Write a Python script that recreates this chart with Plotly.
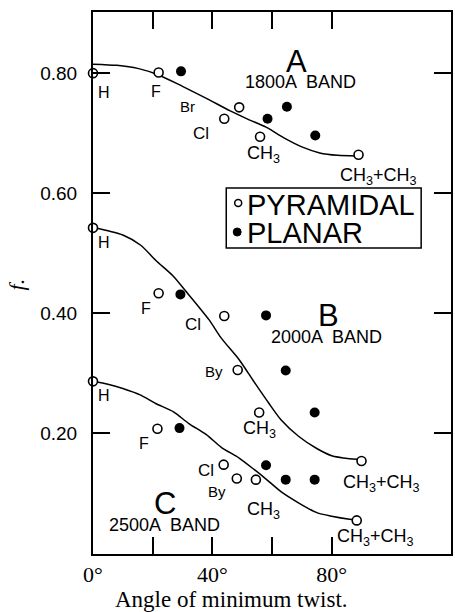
import plotly.graph_objects as go

# ---- data ----
# Band A (1800A)
a_pyr_x = [0, 22, 49, 44, 56, 89]
a_pyr_y = [0.800, 0.801, 0.743, 0.724, 0.694, 0.664]
a_pla_x = [29.5, 58.5, 65, 74.5]
a_pla_y = [0.803, 0.724, 0.744, 0.696]
a_curve_x = [0, 8, 15, 22, 30, 38, 46, 52, 58, 64, 70, 76, 82, 88]
a_curve_y = [0.815, 0.813, 0.808, 0.797, 0.778, 0.758, 0.737, 0.723, 0.710, 0.692, 0.677, 0.667, 0.663, 0.662]

# Band B (2000A)
b_pyr_x = [0, 22, 44, 48.5, 55.7, 90]
b_pyr_y = [0.542, 0.433, 0.395, 0.305, 0.234, 0.153]
b_pla_x = [29.3, 58, 64.6, 74.3]
b_pla_y = [0.431, 0.396, 0.304, 0.234]
b_curve_x = [0, 5, 10, 16, 21, 27, 31, 35, 39, 43, 49, 54, 59, 63, 69, 75, 80, 86, 88.5]
b_curve_y = [0.543, 0.537, 0.530, 0.513, 0.488, 0.461, 0.437, 0.413, 0.388, 0.358, 0.322, 0.285, 0.249, 0.222, 0.194, 0.174, 0.162, 0.157, 0.156]

# Band C (2500A)
c_pyr_x = [0, 21.6, 43.8, 48.2, 54.6, 88.4]
c_pyr_y = [0.286, 0.207, 0.147, 0.124, 0.122, 0.054]
c_pla_x = [29, 58, 64.6, 74.3]
c_pla_y = [0.208, 0.146, 0.122, 0.122]
c_curve_x = [0, 5, 10, 16, 21, 27, 32, 38, 43, 49, 54, 58, 63, 69, 75, 80, 86, 88]
c_curve_y = [0.286, 0.281, 0.274, 0.263, 0.249, 0.235, 0.216, 0.197, 0.176, 0.158, 0.139, 0.123, 0.102, 0.083, 0.067, 0.061, 0.056, 0.055]

x_tickvals = [0, 20, 40, 60, 80]
x_ticktext = ["0°", "", "40°", "", "80°"]
y_tickvals = [0.2, 0.4, 0.6, 0.8]
y_ticktext = ["0.20", "0.40", "0.60", "0.80"]

# point labels: (text, x, y, size)
SUB3 = "CH<sub>3</sub>"
SUB33 = "CH<sub>3</sub>+CH<sub>3</sub>"
labels = [
    ("H", 3.7, 0.768, 16), ("F", 21.2, 0.769, 16), ("Br", 31.7, 0.744, 15),
    ("Cl", 36.2, 0.700, 17), (SUB3, 57.3, 0.665, 18), (SUB33, 95.7, 0.628, 18),
    ("A", 68.2, 0.820, 31), ("1800A  BAND", 69.6, 0.786, 18),
    ("H", 3.7, 0.517, 16), ("F", 17.9, 0.408, 16), ("Cl", 33.4, 0.380, 17),
    ("B", 79.0, 0.395, 31), ("2000A  BAND", 78.3, 0.360, 18), ("By", 40.7, 0.302, 15),
    (SUB3, 55.7, 0.206, 18), (SUB33, 96.7, 0.115, 18),
    ("H", 3.7, 0.263, 16), ("F", 17.1, 0.183, 16), ("Cl", 37.9, 0.138, 17),
    ("By", 41.7, 0.102, 15), (SUB3, 57.3, 0.070, 18),
    ("C", 24.0, 0.082, 31), ("2500A  BAND", 24.0, 0.046, 18),
    (SUB33, 94.6, 0.025, 18),
]

# page geometry (px) for paper-coordinate decorations
L, R, T, B = 93, 453, 12, 554
def px(x):
    return (x - L) / (R - L)
def py(y):
    return (B - y) / (B - T)

fig = go.Figure()

for cx, cy in [(a_curve_x, a_curve_y), (b_curve_x, b_curve_y), (c_curve_x, c_curve_y)]:
    fig.add_trace(go.Scatter(x=cx, y=cy, mode="lines",
                             line=dict(color="black", width=1.5, shape="spline", smoothing=0.7),
                             showlegend=False, hoverinfo="skip"))

for px_, py_ in [(a_pyr_x, a_pyr_y), (b_pyr_x, b_pyr_y), (c_pyr_x, c_pyr_y)]:
    fig.add_trace(go.Scatter(x=px_, y=py_, mode="markers",
                             marker=dict(symbol="circle", size=9, color="white",
                                         line=dict(color="black", width=1.6)),
                             showlegend=False, cliponaxis=False))

for px_, py_ in [(a_pla_x, a_pla_y), (b_pla_x, b_pla_y), (c_pla_x, c_pla_y)]:
    fig.add_trace(go.Scatter(x=px_, y=py_, mode="markers",
                             marker=dict(symbol="circle", size=10, color="black"),
                             showlegend=False))

SANS = "Liberation Sans"
SERIF = "Liberation Serif"

for t, x, y, s in labels:
    fig.add_annotation(x=x, y=y, text=t, showarrow=False, xanchor="center", yanchor="middle",
                       font=dict(family=SANS, size=s, color="black"))

# legend box (decoration)
fig.add_shape(type="rect", xref="paper", yref="paper", x0=px(227), x1=px(423), y0=py(248), y1=py(188),
              line=dict(color="black", width=1.5), fillcolor="white", layer="above")
fig.add_shape(type="circle", xref="paper", yref="paper", x0=px(235.5), x1=px(242.5), y0=py(206.5), y1=py(199.5),
              line=dict(color="black", width=1.5), fillcolor="white", layer="above")
fig.add_shape(type="circle", xref="paper", yref="paper", x0=px(234), x1=px(242), y0=py(236), y1=py(228),
              line=dict(color="black", width=1), fillcolor="black", layer="above")
fig.add_annotation(xref="paper", yref="paper", x=px(246), y=py(205), text="PYRAMIDAL", showarrow=False,
                   xanchor="left", yanchor="middle", font=dict(family=SANS, size=29, color="black"))
fig.add_annotation(xref="paper", yref="paper", x=px(246), y=py(233), text="PLANAR", showarrow=False,
                   xanchor="left", yanchor="middle", font=dict(family=SANS, size=29, color="black"))

# axis titles
fig.add_annotation(xref="paper", yref="paper", x=px(232), y=py(599),
                   text="Angle of minimum twist.", showarrow=False, xanchor="center", yanchor="middle",
                   font=dict(family=SERIF, size=23, color="black"))
fig.add_annotation(xref="paper", yref="paper", x=px(16), y=py(284),
                   text="<i>f.</i>", showarrow=False, xanchor="center", yanchor="middle", textangle=-90,
                   font=dict(family=SERIF, size=22, color="black"))

fig.update_layout(
    width=455, height=612,
    margin=dict(l=L, r=455 - R, t=T, b=612 - B),
    paper_bgcolor="white", plot_bgcolor="white",
    showlegend=False,
    xaxis=dict(range=[0, 120], tickvals=x_tickvals, ticktext=x_ticktext,
               ticks="inside", ticklen=17, tickwidth=1.5, tickcolor="black",
               showline=True, linecolor="black", linewidth=2, mirror="ticks",
               showgrid=False, zeroline=False,
               tickfont=dict(family=SERIF, size=22, color="black")),
    yaxis=dict(range=[-0.002, 0.902], tickvals=y_tickvals, ticktext=y_ticktext,
               ticks="inside", ticklen=17, tickwidth=1.5, tickcolor="black",
               showline=True, linecolor="black", linewidth=2, mirror="ticks",
               showgrid=False, zeroline=False, ticklabelstandoff=10,
               tickfont=dict(family=SANS, size=19, color="black")),
)

fig.write_html("out.html")
